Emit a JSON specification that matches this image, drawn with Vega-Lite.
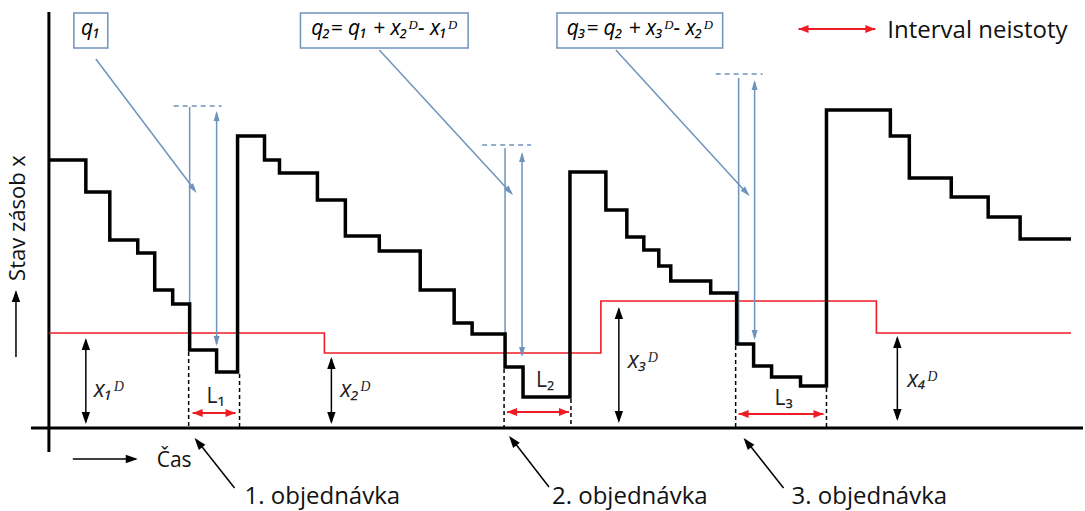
{
  "$schema": "https://vega.github.io/schema/vega-lite/v6.json",
  "width": 1085,
  "height": 511,
  "padding": 0,
  "autosize": {"type": "fit", "contains": "padding"},
  "background": "white",
  "config": {"view": {"stroke": null}},
  "datasets": {
    "boxes": [
      {"x": 74, "x2": 108, "y": 13, "y2": 48},
      {"x": 301, "x2": 469, "y": 13, "y2": 48},
      {"x": 558, "x2": 724, "y": 13, "y2": 48}
    ],
    "stock": [
      {"x": 49, "y": 160}, {"x": 86, "y": 192}, {"x": 110, "y": 240}, {"x": 138, "y": 253},
      {"x": 155, "y": 290}, {"x": 173, "y": 304}, {"x": 190, "y": 350}, {"x": 217, "y": 372},
      {"x": 238, "y": 136}, {"x": 265, "y": 160}, {"x": 280, "y": 173}, {"x": 318, "y": 200},
      {"x": 346, "y": 236}, {"x": 380, "y": 251}, {"x": 421, "y": 290}, {"x": 455, "y": 323},
      {"x": 473, "y": 334}, {"x": 506, "y": 367}, {"x": 524, "y": 397}, {"x": 571, "y": 172},
      {"x": 607, "y": 210}, {"x": 628, "y": 237}, {"x": 645, "y": 250}, {"x": 660, "y": 266},
      {"x": 672, "y": 281}, {"x": 712, "y": 293}, {"x": 738, "y": 344}, {"x": 755, "y": 366},
      {"x": 773, "y": 377}, {"x": 802, "y": 386}, {"x": 828, "y": 110}, {"x": 892, "y": 136},
      {"x": 911, "y": 178}, {"x": 953, "y": 197}, {"x": 990, "y": 217}, {"x": 1022, "y": 239},
      {"x": 1073, "y": 239}
    ],
    "reorder": [
      {"x": 49, "y": 333}, {"x": 325, "y": 353}, {"x": 602, "y": 301}, {"x": 878, "y": 333}, {"x": 1073, "y": 333}
    ],
    "axes": [
      {"x": 49, "x2": 49, "y": 12, "y2": 452},
      {"x": 31, "x2": 1085, "y": 428, "y2": 428}
    ],
    "dashedBlack": [
      {"x": 189, "x2": 189, "y": 352, "y2": 428},
      {"x": 240, "x2": 240, "y": 374, "y2": 428},
      {"x": 505, "x2": 505, "y": 369, "y2": 428},
      {"x": 572, "x2": 572, "y": 399, "y2": 428},
      {"x": 737, "x2": 737, "y": 346, "y2": 428},
      {"x": 828, "x2": 828, "y": 388, "y2": 428}
    ],
    "blackArrows": [
      {"x": 86, "x2": 86, "y": 340, "y2": 422},
      {"x": 332, "x2": 332, "y": 359, "y2": 422},
      {"x": 620, "x2": 620, "y": 309, "y2": 421},
      {"x": 899, "x2": 899, "y": 338, "y2": 419},
      {"x": 73, "x2": 136, "y": 459, "y2": 459},
      {"x": 16, "x2": 16, "y": 357, "y2": 292},
      {"x": 235, "x2": 197, "y": 488, "y2": 440},
      {"x": 550, "x2": 512, "y": 487, "y2": 438},
      {"x": 785, "x2": 747, "y": 488, "y2": 440}
    ],
    "blackHeads": [
      {"x": 86, "y": 344, "a": 0}, {"x": 86, "y": 418, "a": 180},
      {"x": 332, "y": 363, "a": 0}, {"x": 332, "y": 418, "a": 180},
      {"x": 620, "y": 313, "a": 0}, {"x": 620, "y": 417, "a": 180},
      {"x": 899, "y": 342, "a": 0}, {"x": 899, "y": 415, "a": 180},
      {"x": 132, "y": 459, "a": 90},
      {"x": 16, "y": 296, "a": 0},
      {"x": 198.7, "y": 442.7, "a": 321},
      {"x": 513.7, "y": 440.7, "a": 322},
      {"x": 748.7, "y": 442.7, "a": 321}
    ],
    "blueLines": [
      {"x": 96, "x2": 195, "y": 59, "y2": 190},
      {"x": 190, "x2": 190, "y": 107, "y2": 350},
      {"x": 217, "x2": 217, "y": 113, "y2": 344},
      {"x": 380, "x2": 512, "y": 50, "y2": 193},
      {"x": 506, "x2": 506, "y": 148, "y2": 367},
      {"x": 523, "x2": 523, "y": 154, "y2": 355},
      {"x": 617, "x2": 749, "y": 50, "y2": 194},
      {"x": 740, "x2": 740, "y": 78, "y2": 344},
      {"x": 756, "x2": 756, "y": 82, "y2": 338}
    ],
    "blueDashed": [
      {"x": 174, "x2": 222, "y": 106, "y2": 106},
      {"x": 483, "x2": 532, "y": 145, "y2": 145},
      {"x": 717, "x2": 764, "y": 74, "y2": 74}
    ],
    "blueHeads": [
      {"x": 194, "y": 189, "a": 143},
      {"x": 217, "y": 116, "a": 0}, {"x": 217, "y": 341, "a": 180},
      {"x": 510.6, "y": 191.3, "a": 137},
      {"x": 523, "y": 157, "a": 0}, {"x": 523, "y": 352, "a": 180},
      {"x": 747.6, "y": 192.3, "a": 137},
      {"x": 756, "y": 85, "a": 0}, {"x": 756, "y": 335, "a": 180}
    ],
    "redArrows": [
      {"x": 193, "x2": 236, "y": 413, "y2": 413},
      {"x": 508, "x2": 570, "y": 412, "y2": 412},
      {"x": 740, "x2": 825, "y": 414, "y2": 414},
      {"x": 800, "x2": 877, "y": 29, "y2": 29}
    ],
    "redHeads": [
      {"x": 198, "y": 413, "a": 270}, {"x": 231, "y": 413, "a": 90},
      {"x": 513, "y": 412, "a": 270}, {"x": 565, "y": 412, "a": 90},
      {"x": 745, "y": 414, "a": 270}, {"x": 820, "y": 414, "a": 90},
      {"x": 805, "y": 29, "a": 270}, {"x": 872, "y": 29, "a": 90}
    ],
    "boxTexts": [
      {"x": 91, "y": 35, "t": "q₁"},
      {"x": 385, "y": 35, "t": "q₂= q₁ + x₂ᴰ- x₁ᴰ"},
      {"x": 641, "y": 35, "t": "q₃= q₂ + x₃ᴰ- x₂ᴰ"}
    ],
    "xLabels": [
      {"x": 94, "y": 397, "t": "x₁ᴰ"},
      {"x": 341, "y": 397, "t": "x₂ᴰ"},
      {"x": 629, "y": 368, "t": "x₃ᴰ"},
      {"x": 909, "y": 387, "t": "x₄ᴰ"}
    ],
    "lLabels": [
      {"x": 207, "y": 403, "t": "L₁"},
      {"x": 537, "y": 387, "t": "L₂"},
      {"x": 776, "y": 405, "t": "L₃"}
    ],
    "plainLabels": [
      {"x": 157, "y": 467, "t": "Čas", "s": "a"},
      {"x": 245, "y": 504, "t": "1. objednávka", "s": "b"},
      {"x": 553, "y": 504, "t": "2. objednávka", "s": "b"},
      {"x": 793, "y": 504, "t": "3. objednávka", "s": "b"},
      {"x": 889, "y": 38, "t": "Interval neistoty", "s": "b"}
    ],
    "yTitle": [
      {"x": 25, "y": 218, "t": "Stav zásob x"}
    ]
  },
  "encoding": {
    "x": {"field": "x", "type": "quantitative", "axis": null, "scale": {"domain": [0, 1085], "nice": false, "zero": false}},
    "y": {"field": "y", "type": "quantitative", "axis": null, "scale": {"domain": [0, 511], "nice": false, "zero": false, "reverse": true}}
  },
  "layer": [
    {
      "data": {"name": "axes"},
      "mark": {"type": "rule", "color": "black", "strokeWidth": 3},
      "encoding": {"x2": {"field": "x2"}, "y2": {"field": "y2"}}
    },
    {
      "data": {"name": "reorder"},
      "mark": {"type": "line", "color": "#ee1c24", "strokeWidth": 1.6, "interpolate": "step-after"},
      "encoding": {}
    },
    {
      "data": {"name": "dashedBlack"},
      "mark": {"type": "rule", "color": "black", "strokeWidth": 1.5, "strokeDash": [4, 3]},
      "encoding": {"x2": {"field": "x2"}, "y2": {"field": "y2"}}
    },
    {
      "data": {"name": "blueLines"},
      "mark": {"type": "rule", "color": "#6f93ba", "strokeWidth": 1.5},
      "encoding": {"x2": {"field": "x2"}, "y2": {"field": "y2"}}
    },
    {
      "data": {"name": "blueDashed"},
      "mark": {"type": "rule", "color": "#6f93ba", "strokeWidth": 1.5, "strokeDash": [5, 4]},
      "encoding": {"x2": {"field": "x2"}, "y2": {"field": "y2"}}
    },
    {
      "data": {"name": "blueHeads"},
      "mark": {"type": "point", "filled": true, "opacity": 1, "color": "#6f93ba", "shape": "M0,-1L0.6,1L-0.6,1Z", "size": 100},
      "encoding": {"angle": {"field": "a", "type": "quantitative", "scale": null}}
    },
    {
      "data": {"name": "stock"},
      "mark": {"type": "line", "color": "black", "strokeWidth": 3.5, "interpolate": "step-after", "strokeJoin": "miter"},
      "encoding": {}
    },
    {
      "data": {"name": "blackArrows"},
      "mark": {"type": "rule", "color": "black", "strokeWidth": 1.5},
      "encoding": {"x2": {"field": "x2"}, "y2": {"field": "y2"}}
    },
    {
      "data": {"name": "blackHeads"},
      "mark": {"type": "point", "filled": true, "opacity": 1, "color": "black", "shape": "M0,-1L0.7,1L-0.7,1Z", "size": 144},
      "encoding": {"angle": {"field": "a", "type": "quantitative", "scale": null}}
    },
    {
      "data": {"name": "redArrows"},
      "mark": {"type": "rule", "color": "#ee1c24", "strokeWidth": 2},
      "encoding": {"x2": {"field": "x2"}, "y2": {"field": "y2"}}
    },
    {
      "data": {"name": "redHeads"},
      "mark": {"type": "point", "filled": true, "opacity": 1, "color": "#ee1c24", "shape": "M0,-1L0.8,1L-0.8,1Z", "size": 100},
      "encoding": {"angle": {"field": "a", "type": "quantitative", "scale": null}}
    },
    {
      "data": {"name": "boxes"},
      "mark": {"type": "rect", "fill": "white", "stroke": "#6f93ba", "strokeWidth": 1.5},
      "encoding": {"x2": {"field": "x2"}, "y2": {"field": "y2"}}
    },
    {
      "data": {"name": "boxTexts"},
      "mark": {"type": "text", "font": "Open Sans", "fontStyle": "italic", "fontSize": 21, "align": "center", "baseline": "alphabetic", "color": "black"},
      "encoding": {"text": {"field": "t"}}
    },
    {
      "data": {"name": "xLabels"},
      "mark": {"type": "text", "font": "Open Sans", "fontStyle": "italic", "fontSize": 23, "align": "left", "baseline": "alphabetic", "color": "#222"},
      "encoding": {"text": {"field": "t"}}
    },
    {
      "data": {"name": "lLabels"},
      "mark": {"type": "text", "font": "Open Sans", "fontSize": 21, "align": "left", "baseline": "alphabetic", "color": "#222"},
      "encoding": {"text": {"field": "t"}}
    },
    {
      "data": {"name": "plainLabels"},
      "transform": [{"filter": "datum.s == 'a'"}],
      "mark": {"type": "text", "font": "Open Sans", "fontSize": 21, "align": "left", "baseline": "alphabetic", "color": "#111"},
      "encoding": {"text": {"field": "t"}}
    },
    {
      "data": {"name": "plainLabels"},
      "transform": [{"filter": "datum.s == 'b'"}],
      "mark": {"type": "text", "font": "Open Sans", "fontSize": 24, "align": "left", "baseline": "alphabetic", "color": "#111"},
      "encoding": {"text": {"field": "t"}}
    },
    {
      "data": {"name": "yTitle"},
      "mark": {"type": "text", "font": "Open Sans", "fontSize": 22, "angle": 270, "align": "center", "baseline": "alphabetic", "color": "#111"},
      "encoding": {"text": {"field": "t"}}
    }
  ]
}
